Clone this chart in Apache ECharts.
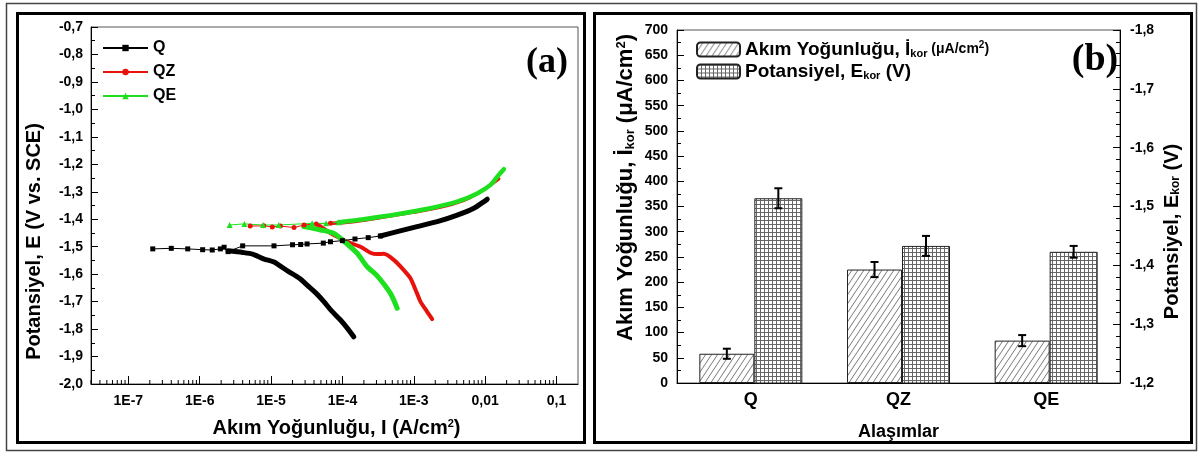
<!DOCTYPE html>
<html>
<head>
<meta charset="utf-8">
<script src="https://cdn.jsdelivr.net/npm/echarts@6/dist/echarts.min.js"></script>
<style>
  html, body { margin: 0; padding: 0; background: #fff; }
  #chart { width: 1200px; height: 454px; }
</style>
</head>
<body>
<div id="chart"></div>
<script>
// (a) polarization curves, points are [current density A/cm2, potential V]
var qFlat = [[2.2e-7, -1.508], [4.0e-7, -1.506], [6.8e-7, -1.508], [1.1e-6, -1.511], [1.5e-6, -1.512],
  [1.95e-6, -1.508], [2.2e-6, -1.502], [2.5e-6, -1.518], [4.0e-6, -1.497], [1.1e-5, -1.497],
  [2.0e-5, -1.493], [2.6e-5, -1.492], [3.2e-5, -1.490], [5.4e-5, -1.487], [6.8e-5, -1.482],
  [1.0e-4, -1.478], [1.5e-4, -1.472], [2.3e-4, -1.467], [3.4e-4, -1.461]];
var qCathodic = [[2.5e-6, -1.515], [4.0e-6, -1.521], [5.5e-6, -1.527], [8.0e-6, -1.545], [1.1e-5, -1.556],
  [1.7e-5, -1.588], [2.5e-5, -1.615], [3.2e-5, -1.640], [4.3e-5, -1.670], [5.5e-5, -1.700],
  [7.0e-5, -1.733], [9.4e-5, -1.767], [1.2e-4, -1.800], [1.44e-4, -1.828]];
var qAnodic = [[3.4e-4, -1.461], [5.85e-4, -1.445], [1.11e-3, -1.427], [2.13e-3, -1.409], [4.06e-3, -1.385],
  [6.93e-3, -1.360], [1.01e-2, -1.332], [1.07e-2, -1.327]];

var qzFlat = [[5.1e-6, -1.425], [7.9e-6, -1.424], [1.04e-5, -1.428], [1.35e-5, -1.425], [2.1e-5, -1.430],
  [2.9e-5, -1.421], [4.3e-5, -1.417], [6.8e-5, -1.415]];
var qzCathodic = [[4.3e-5, -1.417], [5.0e-5, -1.428], [7.5e-5, -1.457], [1.16e-4, -1.482], [1.79e-4, -1.500],
  [2.47e-4, -1.522], [3.07e-4, -1.527], [3.8e-4, -1.526], [5.24e-4, -1.548], [7.24e-4, -1.585],
  [8.98e-4, -1.615], [1.11e-3, -1.670], [1.24e-3, -1.700], [1.54e-3, -1.737], [1.81e-3, -1.764]];
var qzAnodic = [[6.8e-5, -1.415], [1.29e-4, -1.410], [3.41e-4, -1.394], [1.0e-3, -1.374], [2.37e-3, -1.356],
  [5.0e-3, -1.331], [7.7e-3, -1.307], [1.07e-2, -1.283], [1.55e-2, -1.253]];

var qeFlat = [[2.63e-6, -1.421], [4.23e-6, -1.417], [7.73e-6, -1.421], [1.28e-5, -1.421], [3.76e-5, -1.415],
  [5.91e-5, -1.415], [8.88e-5, -1.411]];
var qeCathodic = [[2.87e-5, -1.427], [4.92e-5, -1.439], [7.55e-5, -1.451], [9.37e-5, -1.469], [1.61e-4, -1.524],
  [2.22e-4, -1.573], [3.07e-4, -1.606], [4.71e-4, -1.670], [5.85e-4, -1.724]];
var qeAnodic = [[8.88e-5, -1.411], [1.99e-4, -1.400], [5.85e-4, -1.382], [1.71e-3, -1.360], [4.06e-3, -1.336],
  [7.74e-3, -1.306], [1.19e-2, -1.275], [1.55e-2, -1.239], [1.83e-2, -1.218]];

// (b) corrosion current and potential per alloy
var alloys = ['Q', 'QZ', 'QE'];
var icorr = [58, 225, 84];
var icorrErr = [10, 15, 11];
var ecorr = [-1.514, -1.433, -1.423];
var ecorrErr = [0.017, 0.017, 0.010];

var FONT = '"Liberation Sans", Arial, sans-serif';
var I_NAME = 'Akım Yoğunluğu, İkor (μA/cm2)';
var E_NAME = 'Potansiyel, Ekor (V)';

function comma(v) {
  return v.toFixed(1).replace('.', ',');
}

function logLabel(v) {
  var e = Math.round(Math.log10(v));
  if (e <= -3) return '1E' + e;
  return String(Math.pow(10, e)).replace('.', ',');
}

// minor ticks for log axis (2..9 of each decade)
var logMinor = [];
for (var d = -8; d <= -1; d++) {
  for (var m = 2; m <= 9; m++) {
    var v = m * Math.pow(10, d);
    if (v > 3e-8 && v < 0.2) logMinor.push([v, -2]);
  }
}

function hatch() {
  var c = document.createElement('canvas');
  c.width = 6; c.height = 9;
  var ctx = c.getContext('2d');
  ctx.fillStyle = '#fff';
  ctx.fillRect(0, 0, 6, 9);
  ctx.strokeStyle = '#555';
  ctx.lineWidth = 0.8;
  for (var k = -1; k <= 1; k++) {
    ctx.beginPath();
    ctx.moveTo(k * 6, 9);
    ctx.lineTo(k * 6 + 6, 0);
    ctx.stroke();
  }
  return c;
}

function gridPat() {
  var c = document.createElement('canvas');
  c.width = 4; c.height = 4;
  var ctx = c.getContext('2d');
  ctx.fillStyle = '#fff';
  ctx.fillRect(0, 0, 4, 4);
  ctx.fillStyle = '#666';
  ctx.fillRect(0, 0, 4, 1);
  ctx.fillRect(0, 0, 1, 4);
  return c;
}

function errRender(dx) {
  return function (params, api) {
    var lo = api.coord([api.value(0), api.value(1)]);
    var hi = api.coord([api.value(0), api.value(2)]);
    var x = lo[0] + dx;
    var st = { stroke: '#000', lineWidth: 2 };
    return {
      type: 'group',
      children: [
        { type: 'line', shape: { x1: x, y1: lo[1], x2: x, y2: hi[1] }, style: st },
        { type: 'line', shape: { x1: x - 4, y1: lo[1], x2: x + 4, y2: lo[1] }, style: st },
        { type: 'line', shape: { x1: x - 4, y1: hi[1], x2: x + 4, y2: hi[1] }, style: st }
      ]
    };
  };
}

function richSet(size, subSize) {
  return {
    b: { fontFamily: FONT, fontWeight: 'bold', fontSize: size, color: '#000' },
    sub: { fontFamily: FONT, fontWeight: 'bold', fontSize: subSize, color: '#000', verticalAlign: 'bottom', padding: [8, 0, 0, 0] },
    sup: { fontFamily: FONT, fontWeight: 'bold', fontSize: subSize, color: '#000', verticalAlign: 'top', padding: [0, 0, 8, 0] }
  };
}

var tickLabel = { fontFamily: FONT, fontWeight: 'bold', fontSize: 14, color: '#000' };

function curve(name, data, color, width) {
  return {
    name: name, type: 'line', xAxisIndex: 0, yAxisIndex: 0, data: data,
    showSymbol: false, symbol: 'none', smooth: 0.25,
    lineStyle: { color: color, width: width, cap: 'round', join: 'round' },
    itemStyle: { color: color }, z: 3
  };
}

function flat(name, data, color, symbol, size) {
  return {
    name: name, type: 'line', xAxisIndex: 0, yAxisIndex: 0, data: data,
    symbol: symbol, symbolSize: size,
    lineStyle: { color: color, width: 1 },
    itemStyle: { color: color }, z: 4
  };
}

var chart = echarts.init(document.getElementById('chart'));
chart.setOption({
  backgroundColor: '#fff',
  animation: false,
  textStyle: { fontFamily: FONT },
  grid: [
    { left: 91, top: 27, width: 487, height: 357, show: true, borderColor: '#555', borderWidth: 1, backgroundColor: 'transparent' },
    { left: 677, top: 30, width: 443, height: 353, show: true, borderColor: '#555', borderWidth: 1, backgroundColor: 'transparent' }
  ],
  legend: [
    {
      data: ['Q', 'QZ', 'QE'], orient: 'vertical', left: 97, top: 35,
      itemWidth: 45, itemHeight: 8, itemGap: 8,
      textStyle: { fontFamily: FONT, fontWeight: 'bold', fontSize: 16, color: '#000', lineHeight: 14 }
    },
    {
      data: [I_NAME, E_NAME], orient: 'vertical', left: 691, top: 35,
      itemWidth: 43, itemHeight: 14, itemGap: 3,
      formatter: function (name) {
        if (name === I_NAME) return '{b|Akım Yoğunluğu, İ}{sub|kor}{u| (μA/cm}{sup|2}{u|)}';
        return '{b|Potansiyel, E}{sub|kor}{b| (V)}';
      },
      textStyle: {
        rich: {
          b: { fontFamily: FONT, fontWeight: 'bold', fontSize: 19, color: '#000', lineHeight: 18 },
          u: { fontFamily: FONT, fontWeight: 'bold', fontSize: 14, color: '#000', lineHeight: 18 },
          sub: { fontFamily: FONT, fontWeight: 'bold', fontSize: 11, color: '#000', verticalAlign: 'bottom', padding: [8, 0, 0, 0] },
          sup: { fontFamily: FONT, fontWeight: 'bold', fontSize: 10, color: '#000', verticalAlign: 'top', padding: [0, 0, 6, 0] }
        }
      }
    }
  ],
  xAxis: [
    {
      gridIndex: 0, type: 'log', logBase: 10, min: 3e-8, max: 0.2,
      name: '{b|Akım Yoğunluğu, I (A/cm}{sup|2}{b|)}', nameLocation: 'middle', nameGap: 34,
      nameTextStyle: { rich: richSet(20, 11), padding: [0, 0, 0, 4] },
      axisLine: { lineStyle: { color: '#000', width: 1 } },
      axisTick: { inside: true, length: 8, lineStyle: { color: '#000' } },
      axisLabel: Object.assign({ formatter: logLabel, margin: 10, fontSize: 15, showMinLabel: false, showMaxLabel: false }, tickLabel),
      splitLine: { show: false }
    },
    {
      gridIndex: 1, type: 'category', data: alloys,
      name: 'Alaşımlar', nameLocation: 'middle', nameGap: 40,
      nameTextStyle: { fontFamily: FONT, fontWeight: 'bold', fontSize: 18, color: '#000' },
      axisLine: { lineStyle: { color: '#000', width: 1 } },
      axisTick: { show: false },
      axisLabel: { fontFamily: FONT, fontWeight: 'bold', fontSize: 18, color: '#000', margin: 8 }
    }
  ],
  yAxis: [
    {
      gridIndex: 0, type: 'value', min: -2.0, max: -0.7, interval: 0.1,
      name: 'Potansiyel, E (V vs. SCE)', nameLocation: 'middle', nameGap: 47, nameRotate: 90,
      nameTextStyle: { fontFamily: FONT, fontWeight: 'bold', fontSize: 20, color: '#000', padding: [0, 72, 0, 0] },
      axisLine: { show: true, lineStyle: { color: '#000', width: 1 } },
      axisTick: { show: true, inside: true, length: 7, lineStyle: { color: '#000' } },
      minorTick: { show: true, splitNumber: 2, length: 4, lineStyle: { color: '#000' } },
      axisLabel: Object.assign({ formatter: comma, margin: 8 }, tickLabel),
      splitLine: { show: false }
    },
    {
      gridIndex: 1, type: 'value', min: 0, max: 700, interval: 50,
      name: '{b|Akım Yoğunluğu, İ}{sub|kor}{b| (μA/cm}{sup|2}{b|)}', nameLocation: 'middle', nameGap: 40, nameRotate: 90,
      nameTextStyle: { rich: richSet(22, 13), padding: [0, 0, 0, 38] },
      axisLine: { show: true, lineStyle: { color: '#000', width: 1 } },
      axisTick: { show: true, inside: true, length: 7, lineStyle: { color: '#000' } },
      minorTick: { show: true, splitNumber: 2, length: 4, lineStyle: { color: '#000' } },
      axisLabel: Object.assign({ margin: 9 }, tickLabel),
      splitLine: { show: false }
    },
    {
      gridIndex: 1, type: 'value', position: 'right', inverse: true, min: -1.8, max: -1.2, interval: 0.1,
      name: '{b|Potansiyel, E}{sub|kor}{b| (V)}', nameLocation: 'middle', nameGap: 42, nameRotate: 90,
      nameTextStyle: { rich: richSet(20, 12), padding: [0, 50, 0, 0] },
      axisLine: { show: true, lineStyle: { color: '#000', width: 1 } },
      axisTick: { show: true, inside: true, length: 7, lineStyle: { color: '#000' } },
      minorTick: { show: true, splitNumber: 5, length: 4, lineStyle: { color: '#000' } },
      axisLabel: Object.assign({ formatter: comma, margin: 10 }, tickLabel),
      splitLine: { show: false }
    }
  ],
  series: [
    flat('Q', qFlat, '#000', 'rect', 5),
    curve('Q', qCathodic, '#000', 5),
    curve('Q', qAnodic, '#000', 5),
    flat('QZ', qzFlat, '#e8120c', 'circle', 5),
    curve('QZ', qzCathodic, '#e8120c', 4),
    curve('QZ', qzAnodic, '#e8120c', 3.5),
    flat('QE', qeFlat, '#1fe01f', 'triangle', 6),
    curve('QE', qeCathodic, '#1fe01f', 5),
    curve('QE', qeAnodic, '#1fe01f', 4.5),
    {
      type: 'custom', xAxisIndex: 0, yAxisIndex: 0, data: logMinor, silent: true, z: 2,
      renderItem: function (params, api) {
        var p = api.coord([api.value(0), api.value(1)]);
        return { type: 'line', shape: { x1: p[0], y1: p[1], x2: p[0], y2: p[1] - 4 }, style: { stroke: '#000', lineWidth: 1 } };
      }
    },
    {
      name: I_NAME, type: 'bar', xAxisIndex: 1, yAxisIndex: 1, data: icorr,
      barWidth: 55, barGap: '0%',
      itemStyle: { color: { image: hatch(), repeat: 'repeat' }, borderColor: '#222', borderWidth: 1 }
    },
    {
      name: E_NAME, type: 'bar', xAxisIndex: 1, yAxisIndex: 2, data: ecorr,
      barWidth: 48, barGap: '0%', clip: true,
      itemStyle: { color: { image: gridPat(), repeat: 'repeat' }, borderColor: '#222', borderWidth: 1 }
    },
    {
      type: 'custom', xAxisIndex: 1, yAxisIndex: 1, silent: true, z: 10,
      data: alloys.map(function (a, i) { return [i, icorr[i] - icorrErr[i], icorr[i] + icorrErr[i]]; }),
      renderItem: errRender(-24)
    },
    {
      type: 'custom', xAxisIndex: 1, yAxisIndex: 2, silent: true, z: 10,
      data: alloys.map(function (a, i) { return [i, ecorr[i] - ecorrErr[i], ecorr[i] + ecorrErr[i]]; }),
      renderItem: errRender(27.5)
    }
  ],
  graphic: [
    { type: 'rect', shape: { x: 6.5, y: 3.5, width: 1190, height: 447 }, style: { fill: 'none', stroke: '#444', lineWidth: 1.5 }, silent: true },
    { type: 'rect', shape: { x: 17.5, y: 13.5, width: 567, height: 429 }, style: { fill: 'none', stroke: '#000', lineWidth: 3 }, silent: true },
    { type: 'rect', shape: { x: 594.5, y: 13.5, width: 597, height: 429 }, style: { fill: 'none', stroke: '#000', lineWidth: 3 }, silent: true },
    { type: 'text', x: 547, y: 63, silent: true, style: { text: '(a)', fontFamily: '"Liberation Serif", "Times New Roman", serif', fontWeight: 'bold', fontSize: 36, fill: '#000', align: 'center', verticalAlign: 'middle' } },
    { type: 'text', x: 1095, y: 60, silent: true, style: { text: '(b)', fontFamily: '"Liberation Serif", "Times New Roman", serif', fontWeight: 'bold', fontSize: 38, fill: '#000', align: 'center', verticalAlign: 'middle' } }
  ]
});
</script>
</body>
</html>
